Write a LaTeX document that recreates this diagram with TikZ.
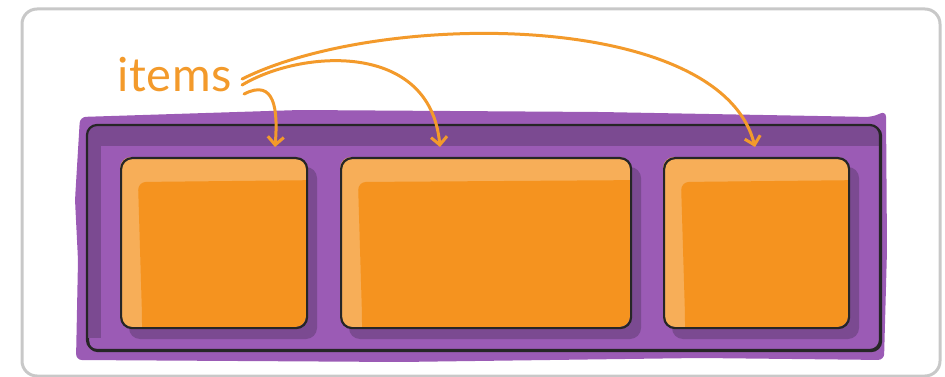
\documentclass[tikz,border=0pt]{standalone}
\usepackage{fontspec}
\setmainfont{Lato}
\usetikzlibrary{arrows.meta}
\definecolor{framegray}{HTML}{C8C8C8}
\definecolor{plight}{HTML}{9B5BB5}
\definecolor{pdark}{HTML}{7B4A91}
\definecolor{orfill}{HTML}{F5931F}
\definecolor{orlight}{HTML}{F7AE58}
\definecolor{arcol}{HTML}{F39A2B}
\tikzset{
  itembox/.style={draw=black!85, line width=2.2pt, rounded corners=11pt, minimum height=170pt, anchor=north west, inner sep=0pt},
  pointer/.style={draw=arcol, line width=3pt, line cap=round, -{Straight Barb[length=8pt,width=16pt]}},
}
\newcommand{\itemfill}[4]{% x1 y1 x2 y2
  \fill[pdark, rounded corners=11pt] (#1+9,#2+10) rectangle (#3+11,#4+12);
  \begin{scope}
    \clip[rounded corners=11pt] (#1,#2) rectangle (#3,#4);
    \fill[orlight] (#1,#2) rectangle (#3,#4);
    \fill[orfill, rounded corners=8pt] (#1+18,#2+25) -- (#3+20,#2+23) -- (#3+20,#4+20) -- (#1+22,#4+20) -- (#1+22,#4-12) -- cycle;
  \end{scope}
}
\begin{document}
\begin{tikzpicture}[x=1pt,y=-1pt]
\useasboundingbox (0,0) rectangle (945,377);
% frame
\draw[framegray, line width=3pt, rounded corners=15pt] (22,9) rectangle (940,376);
% purple wash
\fill[plight, rounded corners=6pt] (80,117) -- (300,110) -- (600,112) -- (872,117) -- (886,111) -- (887,250) -- (884,360) -- (700,358) -- (400,362) -- (76,360) -- (78,260) -- (75,200) -- cycle;
% container
\node[draw=black!85, line width=2.2pt, rounded corners=10pt, fill=plight, minimum width=793pt, minimum height=225pt, anchor=north west, inner sep=0pt] (c) at (87,125) {};
\begin{scope}
  \clip[rounded corners=10pt] (87,125) rectangle (880,350);
  \fill[pdark] (87,125) rectangle (880,146);
  \fill[pdark] (87,125) rectangle (101,338);
\end{scope}
\draw[black!85, line width=2.2pt, rounded corners=10pt] (87,125) rectangle (880,350);
% items
\itemfill{120}{157}{306}{327}
\itemfill{340}{157}{630}{327}
\itemfill{663}{157}{848}{327}
\node[itembox, minimum width=186pt] (b1) at (120,157) {};
\node[itembox, minimum width=290pt] (b2) at (340,157) {};
\node[itembox, minimum width=185pt] (b3) at (663,157) {};
% label
\node[text=arcol, font=\fontsize{47}{47}\selectfont\addfontfeatures{LetterSpace=1.5}, anchor=base west, inner sep=0pt] (items) at (117,92) {items};
\coordinate (t1) at (275,147);
\coordinate (t2) at (440,147);
\coordinate (t3) at (755,147);
\draw[pointer] ([xshift=10pt,yshift=-4pt]items.east) .. controls (380,10) and (720,10) .. (t3);
\draw[pointer] ([xshift=10pt,yshift=-10pt]items.east) .. controls (300,50) and (430,40) .. (t2);
\draw[pointer] ([xshift=12pt,yshift=-19pt]items.east) .. controls (275,78) and (278,110) .. (t1);
\end{tikzpicture}
\end{document}
